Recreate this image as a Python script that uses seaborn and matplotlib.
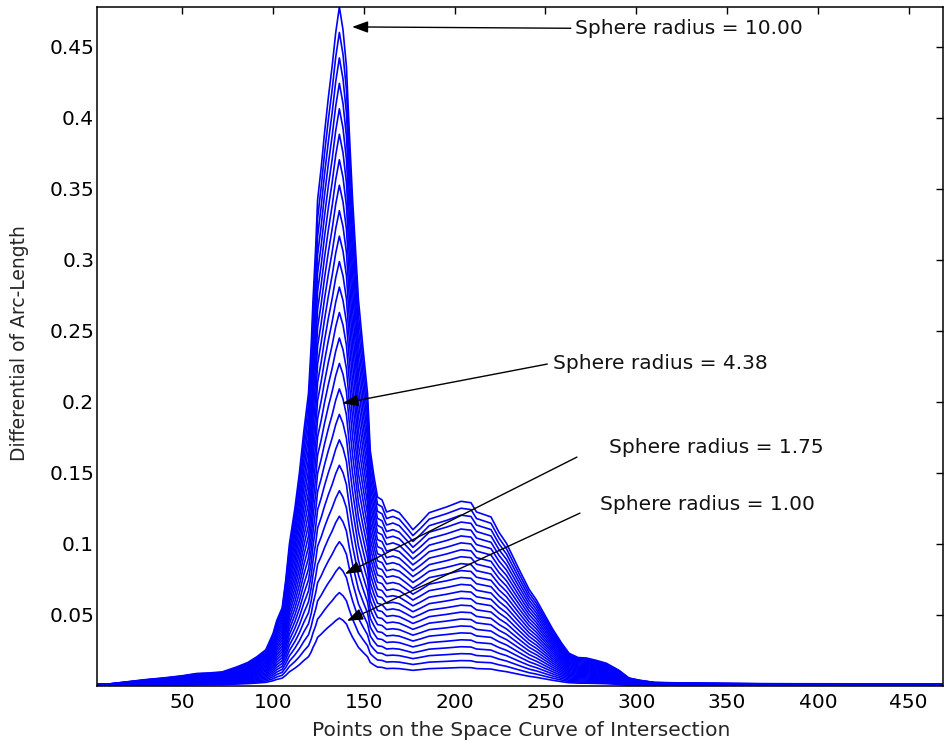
import numpy as np
import pandas as pd
import matplotlib
matplotlib.use("Agg")
import matplotlib.pyplot as plt
import seaborn as sns

# sphere radii of the plotted family (1.00 .. 10.00)
radii = [1.0, 1.375, 1.75, 2.125, 2.5, 2.875, 3.25, 3.625, 4.0, 4.375, 4.75, 5.125, 5.5,
         5.875, 6.25, 6.625, 7.0, 7.375, 7.75, 8.125, 8.5, 8.875, 9.25, 9.625, 10.0]

# outer curve (radius = 10.00), point index vs differential
profile_x = [1, 10, 20, 30, 40, 50, 58, 65, 72, 80, 86, 91, 96, 100, 102, 105, 107, 109,
             112, 114.5, 117, 119.5, 121, 122, 123.5, 124.5, 126.5, 128.3, 130.5, 132.5,
             134.5, 136.5, 138.5, 140.4, 142, 143.8, 145.5, 147, 149.5, 152, 153.5, 155.5,
             157.5, 160, 162.5, 166, 169.5, 174, 177, 181, 186, 195.5, 203.5, 209, 212,
             220, 224.5, 228.5, 235.5, 241, 245, 254, 259, 263, 268, 272.5, 278, 283.5,
             290.5, 296, 302, 310, 330, 370, 420, 469]
profile_r10 = [0.0010, 0.0015, 0.0030, 0.0045, 0.0057, 0.0072, 0.0088, 0.0092, 0.0099,
               0.0134, 0.0165, 0.0205, 0.0255, 0.037, 0.046, 0.055, 0.075, 0.100,
               0.125, 0.150, 0.180, 0.206, 0.240, 0.272, 0.310, 0.342, 0.365, 0.389,
               0.415, 0.436, 0.460, 0.478, 0.462, 0.436, 0.389, 0.342, 0.305, 0.272,
               0.238, 0.206, 0.166, 0.148, 0.133, 0.131, 0.1225, 0.124, 0.122, 0.115,
               0.110, 0.115, 0.122, 0.126, 0.130, 0.129, 0.1225, 0.119, 0.108, 0.1005,
               0.082, 0.068, 0.0606, 0.040, 0.030, 0.023, 0.020, 0.0197, 0.018, 0.016,
               0.011, 0.0056, 0.004, 0.0025, 0.002, 0.0016, 0.0015, 0.0012]

# annotations: label, arrow tip (x, y), text position (x, y), arrow tail (x, y)
labels = ["Sphere radius = 10.00", "Sphere radius = 4.38",
          "Sphere radius = 1.75", "Sphere radius = 1.00"]
tips = [(142, 0.464), (136.6, 0.1986), (138.2, 0.078), (139.3, 0.045)]
text_pos = [(266.5, 0.463), (253.9, 0.2268), (285, 0.168), (280, 0.1275)]
tails = [(265.5, 0.463), (252.5, 0.227), (268.7, 0.162), (270.4, 0.1225)]

# long table for seaborn, arc length scales with the sphere radius
rows = []
for r in radii:
    for xv, yv in zip(profile_x, profile_r10):
        rows.append((r, xv, yv * r / 10.0))
df = pd.DataFrame(rows, columns=["radius", "point", "darc"])

sns.set_theme(style="white")
plt.rcParams['font.family'] = ['DejaVu Sans']

fig = plt.figure(figsize=(9.45, 7.44), dpi=100)
ax = fig.add_axes([0.1026, 0.078, 0.8954, 0.9126])

sns.lineplot(data=df, x="point", y="darc", units="radius", estimator=None,
             color="#0000ff", lw=1.2, sort=False, ax=ax, legend=False)

ax.set_xlim(3, 469)
ax.set_ylim(0, 0.478)
ax.set_xticks([50, 100, 150, 200, 250, 300, 350, 400, 450])
ax.set_yticks([0.05, 0.1, 0.15, 0.2, 0.25, 0.3, 0.35, 0.4, 0.45])
ax.set_yticklabels(["0.05", "0.1", "0.15", "0.2", "0.25", "0.3", "0.35", "0.4", "0.45"])
ax.tick_params(direction="in", length=5, width=1, top=True, right=True,
               labelsize=14.5, colors="black", pad=2)
ax.tick_params(axis="x", pad=5)
for sp in ax.spines.values():
    sp.set_visible(True)
    sp.set_color("black")
    sp.set_linewidth(1.1)

ax.set_xlabel("Points on the Space Curve of Intersection", fontsize=14.5, va="center")
ax.set_ylabel("Differential of Arc-Length", fontsize=13.5, va="center")
ax.xaxis.set_label_coords(0.501, -0.065)
ax.yaxis.set_label_coords(-0.091, 0.505)

for lab, tip, tp, tl in zip(labels, tips, text_pos, tails):
    ax.annotate("", xy=tip, xytext=tl,
                arrowprops=dict(arrowstyle="-|>,head_length=0.6,head_width=0.22",
                                color="black", lw=1, mutation_scale=16))
    ax.text(tp[0], tp[1], lab, fontsize=14.5, va="center", ha="left", color="#111111")

plt.savefig("out.png", dpi=100)
plt.close()
